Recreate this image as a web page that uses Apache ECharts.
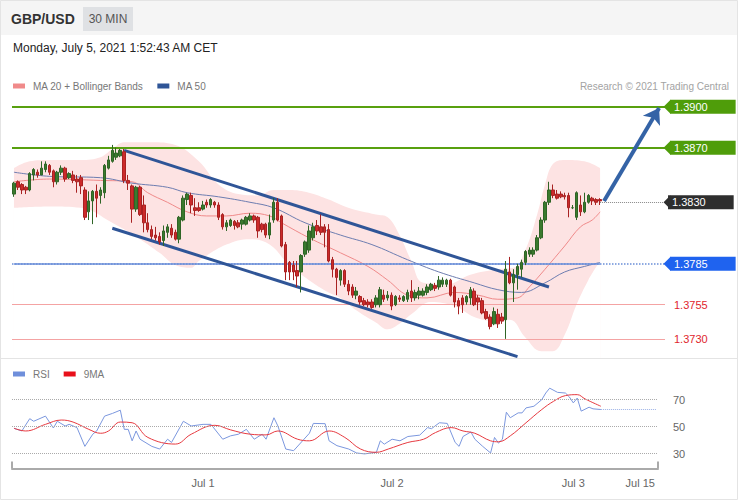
<!DOCTYPE html>
<html>
<head>
<meta charset="utf-8">
<script src="https://cdn.jsdelivr.net/npm/echarts@6.0.0/dist/echarts.min.js"></script>
<style>
  html, body { margin: 0; padding: 0; background: #fff; }
  #chart { width: 738px; height: 500px; }
</style>
</head>
<body>
<div id="chart"></div>
<script>
// 30 min candles, [open, close, low, high]
const candles = [
  [1.3836,1.3844,1.3834,1.3845],[1.3845,1.3841,1.3839,1.3846],[1.3843,1.3839,1.3836,1.3844],[1.3841,1.3839,1.3836,1.3842],
  [1.3839,1.3851,1.3838,1.3852],[1.3850,1.3854,1.3846,1.3855],[1.3852,1.3850,1.3848,1.3854],[1.3850,1.3855,1.3850,1.3860],
  [1.3854,1.3858,1.3852,1.3860],[1.3857,1.3852,1.3850,1.3858],[1.3853,1.3845,1.3841,1.3854],[1.3845,1.3852,1.3843,1.3853],
  [1.3852,1.3855,1.3850,1.3857],[1.3855,1.3847,1.3845,1.3856],[1.3848,1.3851,1.3847,1.3852],[1.3850,1.3846,1.3844,1.3853],
  [1.3847,1.3845,1.3837,1.3850],[1.3848,1.3842,1.3836,1.3850],[1.3839,1.3819,1.3817,1.3841],[1.3823,1.3831,1.3817,1.3838],
  [1.3831,1.3838,1.3814,1.3839],[1.3838,1.3833,1.3819,1.3843],[1.3835,1.3839,1.3829,1.3841],[1.3837,1.3857,1.3833,1.3858],
  [1.3855,1.3861,1.3854,1.3864],[1.3860,1.3868,1.3859,1.3872],[1.3863,1.3866,1.3861,1.3870],[1.3864,1.3868,1.3863,1.3869],
  [1.3867,1.3846,1.3844,1.3869],[1.3846,1.3844,1.3839,1.3850],[1.3842,1.3825,1.3815,1.3843],[1.3825,1.3841,1.3823,1.3842],
  [1.3841,1.3821,1.3820,1.3842],[1.3828,1.3815,1.3808,1.3835],[1.3815,1.3810,1.3808,1.3822],[1.3810,1.3805,1.3803,1.3813],
  [1.3806,1.3804,1.3802,1.3812],[1.3805,1.3801,1.3799,1.3808],[1.3802,1.3809,1.3798,1.3813],[1.3808,1.3812,1.3804,1.3814],
  [1.3811,1.3806,1.3804,1.3814],[1.3808,1.3803,1.3802,1.3810],[1.3803,1.3819,1.3800,1.3820],[1.3817,1.3833,1.3816,1.3835],
  [1.3832,1.3836,1.3828,1.3837],[1.3835,1.3828,1.3822,1.3837],[1.3826,1.3824,1.3820,1.3833],[1.3826,1.3824,1.3823,1.3830],
  [1.3825,1.3828,1.3824,1.3831],[1.3830,1.3828,1.3826,1.3832],[1.3828,1.3832,1.3826,1.3833],[1.3830,1.3828,1.3826,1.3831],
  [1.3828,1.3819,1.3817,1.3830],[1.3821,1.3812,1.3810,1.3822],[1.3812,1.3815,1.3809,1.3817],[1.3813,1.3817,1.3812,1.3818],
  [1.3816,1.3813,1.3810,1.3817],[1.3815,1.3812,1.3811,1.3817],[1.3814,1.3817,1.3810,1.3818],[1.3814,1.3819,1.3813,1.3820],
  [1.3817,1.3820,1.3816,1.3822],[1.3820,1.3817,1.3815,1.3821],[1.3819,1.3809,1.3804,1.3820],[1.3814,1.3810,1.3808,1.3815],
  [1.3814,1.3806,1.3804,1.3815],[1.3806,1.3815,1.3803,1.3821],[1.3817,1.3830,1.3815,1.3833],[1.3830,1.3817,1.3816,1.3833],
  [1.3820,1.3798,1.3797,1.3821],[1.3799,1.3779,1.3773,1.3801],[1.3786,1.3779,1.3773,1.3787],[1.3784,1.3779,1.3773,1.3787],
  [1.3780,1.3776,1.3768,1.3787],[1.3779,1.3791,1.3764,1.3792],[1.3792,1.3801,1.3790,1.3802],[1.3795,1.3809,1.3793,1.3813],
  [1.3804,1.3812,1.3802,1.3815],[1.3813,1.3809,1.3806,1.3817],[1.3812,1.3808,1.3806,1.3821],[1.3812,1.3808,1.3797,1.3814],
  [1.3810,1.3787,1.3786,1.3814],[1.3788,1.3781,1.3775,1.3790],[1.3781,1.3775,1.3762,1.3782],[1.3773,1.3780,1.3769,1.3781],
  [1.3780,1.3770,1.3768,1.3781],[1.3770,1.3765,1.3762,1.3773],[1.3768,1.3762,1.3760,1.3770],[1.3762,1.3765,1.3759,1.3768],
  [1.3761,1.3757,1.3755,1.3762],[1.3758,1.3755,1.3754,1.3760],[1.3757,1.3755,1.3753,1.3759],[1.3757,1.3753,1.3752,1.3759],
  [1.3755,1.3760,1.3753,1.3762],[1.3755,1.3766,1.3753,1.3768],[1.3762,1.3759,1.3757,1.3766],[1.3760,1.3762,1.3758,1.3765],
  [1.3762,1.3754,1.3751,1.3764],[1.3755,1.3761,1.3754,1.3762],[1.3760,1.3759,1.3757,1.3762],[1.3758,1.3761,1.3757,1.3762],
  [1.3759,1.3764,1.3757,1.3766],[1.3765,1.3760,1.3757,1.3773],[1.3760,1.3764,1.3758,1.3766],[1.3762,1.3765,1.3759,1.3768],
  [1.3762,1.3765,1.3761,1.3767],[1.3764,1.3768,1.3762,1.3770],[1.3766,1.3770,1.3765,1.3771],[1.3769,1.3767,1.3765,1.3771],
  [1.3768,1.3773,1.3766,1.3776],[1.3770,1.3773,1.3768,1.3775],[1.3770,1.3773,1.3768,1.3774],[1.3773,1.3762,1.3761,1.3774],
  [1.3768,1.3757,1.3753,1.3769],[1.3758,1.3754,1.3748,1.3760],[1.3760,1.3755,1.3749,1.3762],[1.3757,1.3761,1.3755,1.3762],
  [1.3760,1.3766,1.3755,1.3768],[1.3765,1.3755,1.3754,1.3767],[1.3760,1.3757,1.3751,1.3762],[1.3758,1.3749,1.3748,1.3760],
  [1.3750,1.3745,1.3744,1.3752],[1.3746,1.3739,1.3737,1.3748],[1.3741,1.3750,1.3740,1.3753],[1.3748,1.3741,1.3738,1.3752],
  [1.3746,1.3743,1.3741,1.3749],[1.3744,1.3781,1.3730,1.3787],[1.3779,1.3771,1.3770,1.3790],[1.3771,1.3777,1.3757,1.3781],
  [1.3777,1.3783,1.3766,1.3785],[1.3781,1.3786,1.3775,1.3788],[1.3786,1.3794,1.3784,1.3795],[1.3792,1.3795,1.3790,1.3797],
  [1.3792,1.3795,1.3790,1.3797],[1.3795,1.3804,1.3794,1.3806],[1.3804,1.3817,1.3803,1.3819],[1.3817,1.3830,1.3815,1.3831],
  [1.3830,1.3839,1.3828,1.3845],[1.3839,1.3835,1.3833,1.3843],[1.3836,1.3833,1.3832,1.3839],[1.3836,1.3834,1.3833,1.3838],
  [1.3835,1.3834,1.3832,1.3837],[1.3835,1.3826,1.3819,1.3837],[1.3826,1.3826,1.3825,1.3828],[1.3819,1.3837,1.3817,1.3838],
  [1.3828,1.3823,1.3820,1.3835],[1.3823,1.3830,1.3822,1.3837],[1.3830,1.3835,1.3829,1.3836],[1.3833,1.3831,1.3828,1.3834],
  [1.3832,1.3830,1.3828,1.3833],[1.3832,1.3831,1.3828,1.3833]
];

// [candle index, value]
const bbUpper = [[0,1.3855],[4,1.3860],[9,1.3861],[17,1.3861],[22,1.3863],[25,1.3869],[28,1.3874],[35,1.3874],[41,1.3872],
  [47,1.3860],[52,1.3843],[57,1.3836],[62,1.3835],[66,1.3839],[70,1.3839],[75,1.3837],[80,1.3832],[85,1.3826],[92,1.3821],
  [95,1.3819],[98,1.3806],[101,1.3787],[104,1.3771],[110,1.3770],[116,1.3777],[123,1.3781],[127,1.3782],[130,1.3795],
  [133,1.3821],[135,1.3843],[137,1.3858],[140,1.3861],[145,1.3860],[149,1.3855]];
const bbLower = [[0,1.3826],[9,1.3827],[17,1.3826],[25,1.3815],[32,1.3803],[37,1.3793],[41,1.3784],[45,1.3782],[47,1.3787],
  [54,1.3799],[60,1.3803],[65,1.3799],[70,1.3784],[75,1.3773],[80,1.3764],[83,1.3760],[87,1.3751],[92,1.3742],[95,1.3737],
  [98,1.3741],[101,1.3748],[106,1.3757],[112,1.3754],[117,1.3746],[122,1.3743],[126,1.3744],[130,1.3731],[134,1.3721],
  [137,1.3721],[140,1.3733],[143,1.3755],[146,1.3773],[149,1.3787]];
const ma20 = [[0,1.3845],[9,1.3847],[22,1.3846],[30,1.3845],[34,1.3837],[39,1.3830],[44,1.3823],[49,1.3820],[54,1.3820],
  [60,1.3822],[65,1.3820],[68,1.3815],[75,1.3804],[83,1.3793],[90,1.3783],[95,1.3773],[100,1.3762],[105,1.3760],
  [112,1.3764],[118,1.3762],[123,1.3759],[128,1.3760],[131,1.3768],[135,1.3781],[140,1.3798],[144,1.3812],[147,1.3817],[149,1.3823]];
const ma50 = [[0,1.3852],[9,1.3849],[22,1.3848],[30,1.3844],[39,1.3841],[44,1.3837],[52,1.3834],[60,1.3830],[66,1.3826],
  [74,1.3815],[83,1.3806],[91,1.3799],[100,1.3788],[108,1.3779],[117,1.3771],[123,1.3766],[129,1.3764],[135,1.3771],
  [140,1.3779],[145,1.3783],[149,1.3786]];

const rsi = [[0,48.8],[2,46.8],[4,55.9],[5,54],[8,57.8],[10,49],[11,54],[13,50.5],[14,51.7],[16,49.3],[18,35.4],[20,44.4],
  [21,46.8],[23,57.8],[25,59.8],[27,62.2],[28,48],[29,48],[30,39.5],[31,46.8],[32,40.7],[35,35.4],[37,33.4],[39,40.7],
  [40,38.3],[43,54],[45,50.5],[48,51.7],[50,51.7],[53,40.7],[55,43.2],[57,44.4],[59,48],[61,40.7],[63,44.4],[64,40.7],
  [66,56.6],[67,50.5],[69,33.4],[71,32.2],[75,45.1],[76,52.4],[79,52.2],[80,39.5],[82,35.9],[85,33.4],[87,30.5],[89,29.8],
  [92,31],[93,39.5],[94,37],[96,40.7],[98,39.5],[100,42.7],[103,43.7],[105,49.3],[106,48.5],[108,52.9],[110,52.4],
  [112,38.3],[113,35.4],[114,42.7],[116,46.1],[117,40.7],[119,35.4],[121,30.5],[122,42],[123,37.8],[124,40.7],[125,60.7],
  [126,56.6],[128,60.2],[129,60.2],[130,63.9],[132,65.1],[134,70],[135,74.9],[136,78.5],[138,75.4],[140,74.9],[141,72],
  [142,67.6],[143,71.2],[144,61.5],[146,64.4],[147,63.2],[149,62.7]];
const rsiMa = [[0,48.8],[3,46.8],[8,51.7],[12,54.9],[15,53.4],[19,48],[22,45.1],[24,46.8],[27,53.4],[30,52.9],[34,42],
  [41,37.1],[45,44.4],[51,51],[55,47.6],[60,44.4],[64,43.9],[67,46.8],[72,40.7],[75,39.5],[80,46.8],[84,42],[88,33.4],
  [92,31],[95,33.4],[100,38.3],[104,40.7],[107,45.6],[111,49.3],[114,46.8],[117,45.1],[121,39.5],[123,38.8],[126,43.2],
  [130,52.9],[134,62.7],[137,68.8],[140,73],[143,73.7],[145,70.5],[149,65.1]];

// price tags on the right edge
const tagLevels = [1.3900, 1.3870, 1.3830, 1.3785];
const tagColors = ['#4f9d0a', '#4f9d0a', '#2e2e2e', '#1f63ef'];
const redLevels = [1.3755, 1.3730];
const rsiLevels = [70, 50, 30];
const tickIdx = [48, 96, 142, 159];
const tickText = ['Jul 1', 'Jul 2', 'Jul 3', 'Jul 15'];

const mainSlots = Array.from({ length: 166 }, (_, i) => String(i));
const rsiSlots = Array.from({ length: 164 }, (_, i) => String(i));

const FONT = "'Liberation Sans', Arial, sans-serif";

function tag(i) {
  return {
    show: true, position: 'end', distance: 5, formatter: tagLevels[i].toFixed(4),
    color: '#fff', backgroundColor: tagColors[i], fontSize: 11, fontFamily: FONT,
    padding: [2, 28, 1, 4]
  };
}

const chart = echarts.init(document.getElementById('chart'), null, { renderer: 'svg' });

const option = {
  animation: false,
  backgroundColor: '#fff',
  textStyle: { fontFamily: FONT },
  graphic: [
    { type: 'rect', shape: { x: 0, y: 0, width: 738, height: 35 }, style: { fill: '#f5f5f5' }, silent: true },
    { type: 'rect', shape: { x: 0.5, y: 0.5, width: 737, height: 499 }, style: { fill: 'none', stroke: '#e4e4e4' }, silent: true },
    { type: 'line', shape: { x1: 0, y1: 358.5, x2: 738, y2: 358.5 }, style: { stroke: '#e4e4e4', lineWidth: 1 }, silent: true },
    { type: 'text', x: 11, y: 19, style: { text: 'GBP/USD', font: 'bold 14px ' + FONT, fill: '#333', verticalAlign: 'middle' } },
    { type: 'rect', shape: { x: 83, y: 7, width: 50, height: 24 }, style: { fill: '#dfe1e4' }, silent: true },
    { type: 'text', x: 108, y: 19, style: { text: '30 MIN', font: '12px ' + FONT, fill: '#555', align: 'center', verticalAlign: 'middle' } },
    { type: 'text', x: 13, y: 48, style: { text: 'Monday, July 5, 2021 1:52:43 AM CET', font: '12px ' + FONT, fill: '#222', verticalAlign: 'middle' } },
    { type: 'text', x: 729, y: 86, style: { text: 'Research \u00a9 2021 Trading Central', font: '10px ' + FONT, fill: '#a3a3a3', align: 'right', verticalAlign: 'middle' } }
  ],
  legend: [
    {
      data: [
        { name: 'MA 20 + Bollinger Bands', itemStyle: { color: '#f08a8a' } },
        { name: 'MA 50', itemStyle: { color: '#2f5597' } }
      ],
      left: 8, top: 76, icon: 'rect', itemWidth: 12, itemHeight: 5, itemGap: 14,
      textStyle: { color: '#777', fontSize: 10, padding: [0, 0, 0, 3] }, selectedMode: false
    },
    {
      data: [
        { name: 'RSI', itemStyle: { color: '#6f8fdb' } },
        { name: '9MA', itemStyle: { color: '#e8101a' } }
      ],
      left: 8, top: 364, icon: 'rect', itemWidth: 12, itemHeight: 5, itemGap: 14,
      textStyle: { color: '#777', fontSize: 10, padding: [0, 0, 0, 3] }, selectedMode: false
    }
  ],
  grid: [
    { left: 12, right: 73, top: 93, height: 265 },
    { left: 12, right: 80, top: 374, height: 94.5 }
  ],
  xAxis: [
    { type: 'category', gridIndex: 0, data: mainSlots, show: false },
    {
      type: 'category', gridIndex: 1, data: rsiSlots, position: 'bottom',
      axisLine: { show: false }, axisTick: { show: false },
      axisLabel: {
        interval: (i) => tickIdx.includes(i),
        formatter: (v, i) => tickText[tickIdx.indexOf(i)] || '',
        color: '#666', fontSize: 11, margin: 9
      }
    },
    {
      type: 'value', gridIndex: 1, min: 0, max: 1, interval: 1, position: 'bottom',
      axisLine: { show: true, lineStyle: { color: '#aaa', width: 2 } },
      axisTick: { show: true, inside: true, length: 7, lineStyle: { color: '#aaa', width: 2 } },
      axisLabel: { show: false }, splitLine: { show: false }
    }
  ],
  yAxis: [
    { type: 'value', gridIndex: 0, min: 1.3716, max: 1.3910, show: false },
    { type: 'value', gridIndex: 1, min: 19, max: 89, show: false }
  ],
  series: [
    {
      name: 'bbUpper', type: 'line', data: bbUpper, smooth: 0.4, symbol: 'none', silent: true, z: 1,
      lineStyle: { width: 0 }, areaStyle: { color: '#fde3e3', opacity: 1, origin: 'start' }
    },
    {
      name: 'bbLower', type: 'line', data: bbLower, smooth: 0.4, symbol: 'none', silent: true, z: 2,
      lineStyle: { width: 0 }, areaStyle: { color: '#ffffff', opacity: 1, origin: 'start' }
    },
    {
      name: 'MA 20 + Bollinger Bands', type: 'line', data: ma20, smooth: 0.4, symbol: 'none', z: 3,
      itemStyle: { color: '#f08a8a' }, lineStyle: { color: '#ef8a8a', width: 1 }
    },
    {
      name: 'MA 50', type: 'line', data: ma50, smooth: 0.4, symbol: 'none', z: 3,
      itemStyle: { color: '#2f5597' }, lineStyle: { color: '#6d7db0', width: 1 }
    },
    {
      name: 'GBP/USD', type: 'candlestick', data: candles, barWidth: 3, z: 5,
      itemStyle: { color: '#3a7a2e', color0: '#cc2a2a', borderColor: '#2f6526', borderColor0: '#a82222', borderWidth: 1 },
      markPoint: {
        silent: true, animation: false,
        symbol: 'path://M0,7 L7,0 L7,14 Z', symbolSize: [7, 14], symbolOffset: [4, 0],
        label: { show: false },
        data: tagLevels.map((v, i) => ({ coord: [165, v], itemStyle: { color: tagColors[i] } }))
      },
      markLine: {
        symbol: 'none', silent: true, animation: false, precision: 4,
        data: [
          { yAxis: tagLevels[0], lineStyle: { color: '#58a00f', width: 2, type: 'solid' }, label: tag(0) },
          { yAxis: tagLevels[1], lineStyle: { color: '#58a00f', width: 2, type: 'solid' }, label: tag(1) },
          { yAxis: tagLevels[3], lineStyle: { color: '#6a8ed8', width: 1.5, type: 'dotted' }, label: tag(3) },
          [{ coord: [0, tagLevels[3]], lineStyle: { color: '#6a8ed8', width: 1.5, type: 'solid' }, label: { show: false } }, { coord: [149, tagLevels[3]] }],
          [{ coord: [149, tagLevels[2]], lineStyle: { color: '#888', width: 1, type: 'dotted' }, label: tag(2) }, { coord: [165, tagLevels[2]] }],
          ...redLevels.map(v => ({
            yAxis: v, lineStyle: { color: '#f4a3a3', width: 1, type: 'solid' },
            label: { show: true, position: 'end', distance: 9, formatter: v.toFixed(4), color: '#e0252d', fontSize: 11 }
          })),
          [{ coord: [28, 1.3868], lineStyle: { color: '#2f5597', width: 3, type: 'solid' }, label: { show: false } }, { coord: [136, 1.3768] }],
          [{ coord: [25, 1.3811], lineStyle: { color: '#2f5597', width: 3, type: 'solid' }, label: { show: false } }, { coord: [128, 1.3717] }],
          [{ coord: [150, 1.3831], symbol: 'none', lineStyle: { color: '#3463a6', width: 4, type: 'solid' }, label: { show: false } },
           { coord: [164, 1.3899], symbol: 'arrow', symbolSize: 15 }]
        ]
      }
    },
    {
      name: 'RSI', type: 'line', xAxisIndex: 1, yAxisIndex: 1, data: rsi, symbol: 'none', z: 3,
      itemStyle: { color: '#6f8fdb' }, lineStyle: { color: '#7b97de', width: 1 },
      markLine: {
        symbol: 'none', silent: true, animation: false,
        data: rsiLevels.map(v => ({
          yAxis: v, lineStyle: { color: '#aaa', width: 1, type: 'dotted' },
          label: { show: true, position: 'end', distance: 15, formatter: String(v), color: '#666', fontSize: 11 }
        })).concat([
          [{ coord: [149, 62.7], lineStyle: { color: '#9bb0e6', width: 1, type: 'dotted' }, label: { show: false } }, { coord: [163, 62.7] }]
        ])
      }
    },
    {
      name: '9MA', type: 'line', xAxisIndex: 1, yAxisIndex: 1, data: rsiMa, smooth: 0.4, symbol: 'none', z: 4,
      itemStyle: { color: '#e8101a' }, lineStyle: { color: '#e63a40', width: 1 }
    }
  ]
};

chart.setOption(option);
window.addEventListener('resize', () => chart.resize());
</script>
</body>
</html>
